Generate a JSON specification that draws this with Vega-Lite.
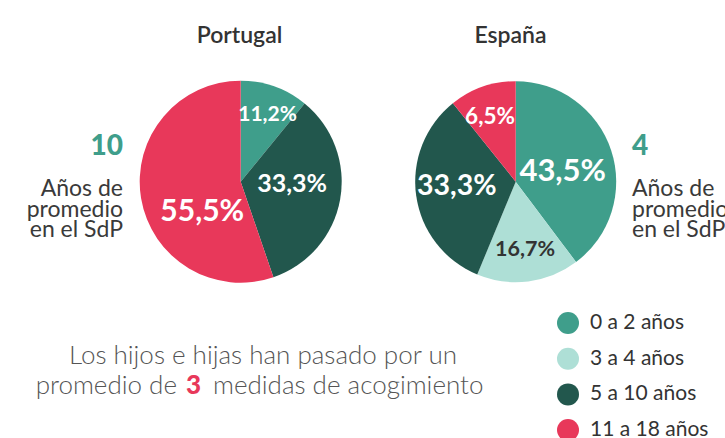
{
  "$schema": "https://vega.github.io/schema/vega-lite/v6.json",
  "width": 725,
  "height": 438,
  "padding": 0,
  "autosize": {"type": "none"},
  "background": "white",
  "config": {
    "view": {"stroke": null},
    "legend": {
      "orient": "none",
      "legendX": 557,
      "legendY": 312,
      "padding": 0,
      "symbolType": "circle",
      "symbolSize": 484,
      "symbolStrokeWidth": 0,
      "symbolOpacity": 1,
      "labelFont": "Lato",
      "labelFontSize": 21,
      "labelColor": "#333333",
      "labelOffset": 11,
      "rowPadding": 13.7
    }
  },
  "datasets": {
    "pie": [
      {"country": "Portugal", "category": "0 a 2 años", "seq": 1, "value": 10.9, "label": "11,2%"},
      {"country": "Portugal", "category": "5 a 10 años", "seq": 3, "value": 33.85, "label": "33,3%"},
      {"country": "Portugal", "category": "11 a 18 años", "seq": 4, "value": 55.25, "label": "55,5%"},
      {"country": "España", "category": "0 a 2 años", "seq": 1, "value": 39.75, "label": "43,5%"},
      {"country": "España", "category": "3 a 4 años", "seq": 2, "value": 16.5, "label": "16,7%"},
      {"country": "España", "category": "5 a 10 años", "seq": 3, "value": 33.0, "label": "33,3%"},
      {"country": "España", "category": "11 a 18 años", "seq": 4, "value": 10.75, "label": "6,5%"}
    ],
    "promedio": [
      {"country": "Portugal", "anios": 10},
      {"country": "España", "anios": 4}
    ],
    "medidas": [
      {"medidas": 3}
    ]
  },
  "layer": [
    {
      "data": {"name": "pie"},
      "transform": [{"filter": "datum.country === 'Portugal'"}],
      "mark": {"type": "arc", "x": 240.7, "y": 181.7, "radius": 101, "stroke": null},
      "encoding": {
        "theta": {"field": "value", "type": "quantitative", "stack": true, "scale": {"domain": [0, 100]}},
        "order": {"field": "seq", "type": "quantitative"},
        "color": {
          "field": "category", "type": "nominal",
          "scale": {"domain": ["0 a 2 años", "3 a 4 años", "5 a 10 años", "11 a 18 años"], "range": ["#3F9E8B", "#AEDFD6", "#22574D", "#E8385A"]},
          "legend": {"title": null}
        }
      }
    },
    {
      "data": {"name": "pie"},
      "transform": [{"filter": "datum.country === 'España'"}],
      "mark": {"type": "arc", "x": 515.7, "y": 181.7, "radius": 100.5, "stroke": null},
      "encoding": {
        "theta": {"field": "value", "type": "quantitative", "stack": true, "scale": {"domain": [0, 100]}},
        "order": {"field": "seq", "type": "quantitative"},
        "color": {"field": "category", "type": "nominal", "legend": {"title": null}}
      }
    },
    {
      "data": {"name": "pie"},
      "transform": [{"filter": "datum.country === 'Portugal'"}],
      "mark": {"type": "text", "x": 240.7, "y": 181.7, "radius": 72, "thetaOffset": 0.04, "font": "Lato", "fontWeight": "bold", "fontSize": 21, "color": "white", "align": "center", "baseline": "middle"},
      "encoding": {
        "theta": {"field": "value", "type": "quantitative", "stack": true, "scale": {"domain": [0, 100]}},
        "order": {"field": "seq", "type": "quantitative"},
        "text": {"condition": {"test": "datum.category === '0 a 2 años'", "field": "label"}, "value": ""}
      }
    },
    {
      "data": {"name": "pie"},
      "transform": [{"filter": "datum.country === 'Portugal'"}],
      "mark": {"type": "text", "x": 240.7, "y": 181.7, "radius": 51.5, "thetaOffset": -0.133, "font": "Lato", "fontWeight": "bold", "fontSize": 25, "color": "white", "align": "center", "baseline": "middle"},
      "encoding": {
        "theta": {"field": "value", "type": "quantitative", "stack": true, "scale": {"domain": [0, 100]}},
        "order": {"field": "seq", "type": "quantitative"},
        "text": {"condition": {"test": "datum.category === '5 a 10 años'", "field": "label"}, "value": ""}
      }
    },
    {
      "data": {"name": "pie"},
      "transform": [{"filter": "datum.country === 'Portugal'"}],
      "mark": {"type": "text", "x": 240.7, "y": 181.7, "radius": 49, "thetaOffset": -0.504, "font": "Lato", "fontWeight": "bold", "fontSize": 30, "color": "white", "align": "center", "baseline": "middle"},
      "encoding": {
        "theta": {"field": "value", "type": "quantitative", "stack": true, "scale": {"domain": [0, 100]}},
        "order": {"field": "seq", "type": "quantitative"},
        "text": {"condition": {"test": "datum.category === '11 a 18 años'", "field": "label"}, "value": ""}
      }
    },
    {
      "data": {"name": "pie"},
      "transform": [{"filter": "datum.country === 'España'"}],
      "mark": {"type": "text", "x": 515.7, "y": 181.7, "radius": 48, "thetaOffset": 0.118, "font": "Lato", "fontWeight": "bold", "fontSize": 31, "color": "white", "align": "center", "baseline": "middle"},
      "encoding": {
        "theta": {"field": "value", "type": "quantitative", "stack": true, "scale": {"domain": [0, 100]}},
        "order": {"field": "seq", "type": "quantitative"},
        "text": {"condition": {"test": "datum.category === '0 a 2 años'", "field": "label"}, "value": ""}
      }
    },
    {
      "data": {"name": "pie"},
      "transform": [{"filter": "datum.country === 'España'"}],
      "mark": {"type": "text", "x": 515.7, "y": 181.7, "radius": 69, "thetaOffset": -0.01, "font": "Lato", "fontWeight": "bold", "fontSize": 21.5, "color": "#333333", "align": "center", "baseline": "middle"},
      "encoding": {
        "theta": {"field": "value", "type": "quantitative", "stack": true, "scale": {"domain": [0, 100]}},
        "order": {"field": "seq", "type": "quantitative"},
        "text": {"condition": {"test": "datum.category === '3 a 4 años'", "field": "label"}, "value": ""}
      }
    },
    {
      "data": {"name": "pie"},
      "transform": [{"filter": "datum.country === 'España'"}],
      "mark": {"type": "text", "x": 515.7, "y": 181.7, "radius": 59, "thetaOffset": 0.068, "font": "Lato", "fontWeight": "bold", "fontSize": 28.5, "color": "white", "align": "center", "baseline": "middle"},
      "encoding": {
        "theta": {"field": "value", "type": "quantitative", "stack": true, "scale": {"domain": [0, 100]}},
        "order": {"field": "seq", "type": "quantitative"},
        "text": {"condition": {"test": "datum.category === '5 a 10 años'", "field": "label"}, "value": ""}
      }
    },
    {
      "data": {"name": "pie"},
      "transform": [{"filter": "datum.country === 'España'"}],
      "mark": {"type": "text", "x": 515.7, "y": 181.7, "radius": 69.5, "thetaOffset": -0.041, "font": "Lato", "fontWeight": "bold", "fontSize": 22.5, "color": "white", "align": "center", "baseline": "middle"},
      "encoding": {
        "theta": {"field": "value", "type": "quantitative", "stack": true, "scale": {"domain": [0, 100]}},
        "order": {"field": "seq", "type": "quantitative"},
        "text": {"condition": {"test": "datum.category === '11 a 18 años'", "field": "label"}, "value": ""}
      }
    },
    {
      "data": {"name": "promedio"},
      "transform": [{"filter": "datum.country === 'Portugal'"}],
      "mark": {"type": "text", "x": 123, "y": 155, "align": "right", "baseline": "alphabetic", "font": "Lato", "fontWeight": 900, "fontSize": 28, "color": "#3F9E8B"},
      "encoding": {"text": {"field": "anios", "type": "quantitative"}}
    },
    {
      "data": {"name": "promedio"},
      "transform": [{"filter": "datum.country === 'España'"}],
      "mark": {"type": "text", "x": 632, "y": 155, "align": "left", "baseline": "alphabetic", "font": "Lato", "fontWeight": 900, "fontSize": 28, "color": "#3F9E8B"},
      "encoding": {"text": {"field": "anios", "type": "quantitative"}}
    },
    {
      "data": {"values": [{}]},
      "mark": {"type": "text", "x": 123, "y": 196, "align": "right", "baseline": "alphabetic", "font": "Lato", "fontSize": 23, "lineHeight": 20.5, "color": "#3a3a3a", "text": ["Años de", "promedio", "en el SdP"]},
      "encoding": {}
    },
    {
      "data": {"values": [{}]},
      "mark": {"type": "text", "x": 632, "y": 196, "align": "left", "baseline": "alphabetic", "font": "Lato", "fontSize": 23, "lineHeight": 20.5, "color": "#3a3a3a", "text": ["Años de", "promedio", "en el SdP"]},
      "encoding": {}
    },
    {
      "data": {"values": [{}]},
      "mark": {"type": "text", "x": 239.5, "y": 43, "align": "center", "baseline": "alphabetic", "font": "Lato", "fontWeight": 600, "fontSize": 23, "color": "#333333", "text": "Portugal"},
      "encoding": {}
    },
    {
      "data": {"values": [{}]},
      "mark": {"type": "text", "x": 510.5, "y": 43, "align": "center", "baseline": "alphabetic", "font": "Lato", "fontWeight": 600, "fontSize": 23, "color": "#333333", "text": "España"},
      "encoding": {}
    },
    {
      "data": {"values": [{}]},
      "mark": {"type": "text", "x": 263, "y": 364, "align": "center", "baseline": "alphabetic", "font": "Lato", "fontWeight": 300, "fontSize": 26, "color": "#555555", "text": "Los hijos e hijas han pasado por un"},
      "encoding": {}
    },
    {
      "data": {"values": [{}]},
      "mark": {"type": "text", "x": 177, "y": 394, "align": "right", "baseline": "alphabetic", "font": "Lato", "fontWeight": 300, "fontSize": 26, "color": "#555555", "text": "promedio de"},
      "encoding": {}
    },
    {
      "data": {"name": "medidas"},
      "mark": {"type": "text", "x": 193.5, "y": 394, "align": "center", "baseline": "alphabetic", "font": "Lato", "fontWeight": 900, "fontSize": 26, "color": "#E8385A"},
      "encoding": {"text": {"field": "medidas", "type": "quantitative"}}
    },
    {
      "data": {"values": [{}]},
      "mark": {"type": "text", "x": 213, "y": 394, "align": "left", "baseline": "alphabetic", "font": "Lato", "fontWeight": 300, "fontSize": 26, "color": "#555555", "text": "medidas de acogimiento"},
      "encoding": {}
    }
  ]
}
